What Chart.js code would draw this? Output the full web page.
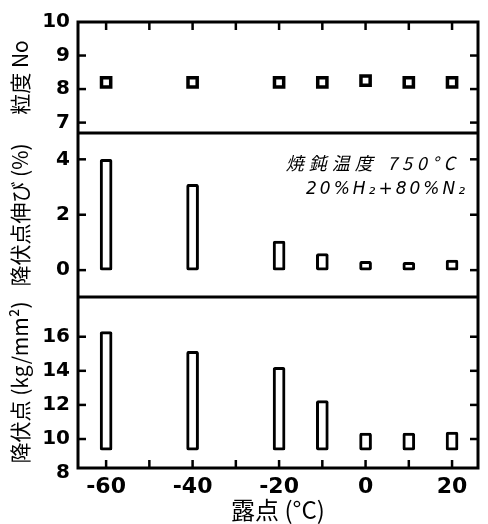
<!DOCTYPE html>
<html>
<head>
<meta charset="utf-8">
<script src="https://cdn.jsdelivr.net/npm/chart.js@4.4.1/dist/chart.umd.min.js"></script>
<style>
  body { margin: 0; background: #fff; }
</style>
</head>
<body>
<canvas id="dewCanvas" width="488" height="524"></canvas>
<script>
// dew point (°C) vs grain size, yield point elongation, yield point
const dewPoints = [-60, -40, -20, -10, 0, 10, 20];
const grainSizeNo = [8.2, 8.2, 8.2, 8.2, 8.25, 8.2, 8.2];
const ypElongation = [4.0, 3.1, 1.05, 0.6, 0.32, 0.28, 0.36];
const yieldPoint = [16.3, 15.15, 14.2, 12.25, 10.35, 10.35, 10.4];
const yieldBase = 9.35;

const xTickLabels = [-60, -40, -20, 0, 20];
const xMinorTicks = [-60, -50, -40, -30, -20, -10, 0, 10, 20];
const grainTicks = [7, 8, 9, 10];
const elongTicks = [0, 2, 4];
const yieldTicks = [8, 10, 12, 14, 16];

const numFont = { family: 'DejaVu Sans', size: 20, weight: 'bold' };
const jpFont = { family: 'Noto Sans CJK JP', size: 21 };

function yAxis(ticks, min, max, weight, title) {
    return {
        type: 'linear',
        position: 'left',
        stack: 'panels',
        stackWeight: weight,
        min: min,
        max: max,
        grid: { display: false, drawTicks: false },
        border: { display: false },
        afterBuildTicks: s => { s.ticks = ticks.map(v => ({ value: v })); },
        afterFit: s => { s.width = 78; },
        ticks: { color: '#000', padding: 8, font: numFont, autoSkip: false, callback: v => String(v) },
        title: { display: true, text: title, color: '#000', font: jpFont, padding: { top: 7, bottom: 0 } }
    };
}

const framePlugin = {
    id: 'frame',
    afterDraw(chart) {
        const ctx = chart.ctx;
        const a = chart.chartArea;
        const x = chart.scales.x;
        const line = (x1, y1, x2, y2) => {
            ctx.beginPath(); ctx.moveTo(x1, y1); ctx.lineTo(x2, y2); ctx.stroke();
        };
        ctx.save();
        ctx.strokeStyle = '#000';
        ctx.lineWidth = 3;
        ctx.strokeRect(a.left, a.top, a.right - a.left, a.bottom - a.top);
        ['yMid', 'yBot'].forEach(id => {
            const s = chart.scales[id];
            line(a.left, s.top, a.right, s.top);
        });

        // inward tick marks
        ctx.lineWidth = 2.5;
        const len = 8;
        xMinorTicks.forEach(v => {
            const px = x.getPixelForValue(v);
            line(px, a.top, px, a.top + len);
            line(px, a.bottom, px, a.bottom - len);
        });
        [['yTop', grainTicks], ['yMid', elongTicks], ['yBot', yieldTicks]].forEach(([id, ticks]) => {
            const s = chart.scales[id];
            ticks.forEach(v => {
                const py = s.getPixelForValue(v);
                if (py <= s.top + 3 || py >= s.bottom - 3) return;
                line(a.left, py, a.left + len, py);
                line(a.right, py, a.right - len, py);
            });
        });

        // annealing note
        const mid = chart.scales.yMid;
        ctx.fillStyle = '#000';
        ctx.textAlign = 'right';
        ctx.textBaseline = 'middle';
        ctx.letterSpacing = '5px';
        ctx.font = 'italic 18px "Noto Sans CJK JP"';
        ctx.fillText('焼鈍温度 750°C', a.right - 18, mid.top + 30);
        ctx.letterSpacing = '3px';
        ctx.font = 'italic 17px "DejaVu Sans"';
        ctx.fillText('20%H₂+80%N₂', a.right - 10, mid.top + 57);
        ctx.restore();
    }
};

new Chart(document.getElementById('dewCanvas'), {
    type: 'bar',
    data: {
        datasets: [{
            type: 'scatter',
            yAxisID: 'yTop',
            data: dewPoints.map((d, i) => ({ x: d, y: grainSizeNo[i] })),
            pointStyle: 'rect',
            radius: 6.5,
            borderWidth: 3.5,
            borderColor: '#000',
            backgroundColor: '#fff'
        }, {
            yAxisID: 'yMid',
            data: dewPoints.map((d, i) => ({ x: d, y: ypElongation[i] })),
            grouped: false,
            barThickness: 12,
            borderWidth: 3,
            borderRadius: 2,
            borderSkipped: false,
            borderColor: '#000',
            backgroundColor: '#fff'
        }, {
            yAxisID: 'yBot',
            data: dewPoints.map((d, i) => ({ x: d, y: yieldPoint[i] })),
            base: yieldBase,
            grouped: false,
            barThickness: 12,
            borderWidth: 3,
            borderRadius: 2,
            borderSkipped: false,
            borderColor: '#000',
            backgroundColor: '#fff'
        }]
    },
    options: {
        responsive: false,
        animation: false,
        devicePixelRatio: 1,
        layout: { padding: { left: 0, right: 7, top: 22, bottom: 0 } },
        plugins: {
            legend: { display: false },
            tooltip: { enabled: false }
        },
        scales: {
            x: {
                type: 'linear',
                offset: false,
                min: -66.5,
                max: 26,
                grid: { display: false, drawTicks: false },
                border: { display: false },
                afterBuildTicks: s => { s.ticks = xTickLabels.map(v => ({ value: v })); },
                afterFit: s => { s.height = 56; },
                ticks: {
                    color: '#000', padding: 6, autoSkip: false, maxRotation: 0,
                    font: { family: 'DejaVu Sans', size: 22, weight: 'bold' },
                    callback: v => String(v)
                },
                title: {
                    display: true, text: '露点 (°C)', color: '#000',
                    font: { family: 'Noto Sans CJK JP', size: 24 },
                    padding: { top: 0, bottom: 0 }
                }
            },
            yBot: yAxis(yieldTicks, 8.3, 18.33, 171, '降伏点 (kg/mm²)'),
            yMid: yAxis(elongTicks, -0.97, 4.95, 164, '降伏点伸び (%)'),
            yTop: yAxis(grainTicks, 6.69, 10, 111, '粒度 No')
        }
    },
    plugins: [framePlugin]
});
</script>
</body>
</html>
